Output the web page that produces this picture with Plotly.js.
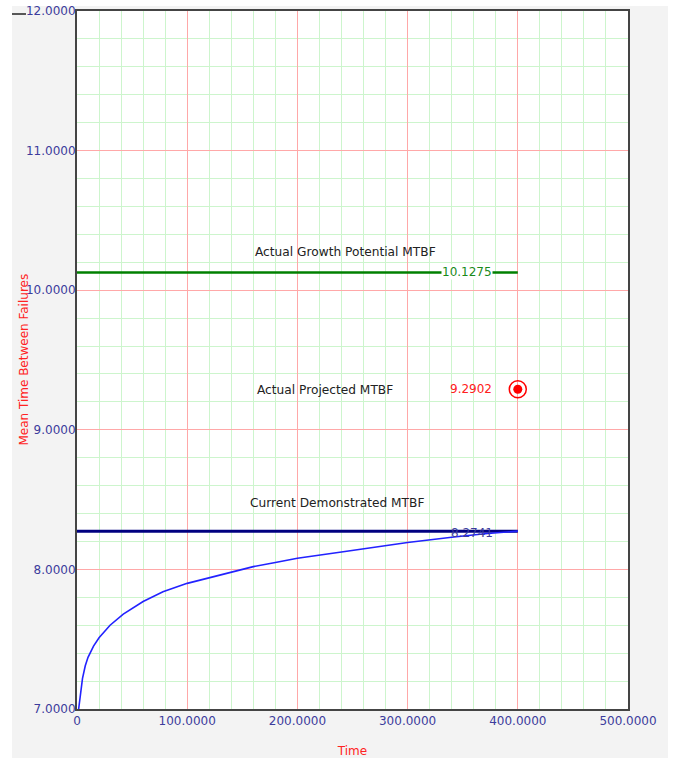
<!DOCTYPE html>
<html>
<head>
<meta charset="utf-8">
<script src="https://cdn.plot.ly/plotly-3.0.1.min.js"></script>
<style>
  html, body { margin: 0; padding: 0; background: #ffffff; }
  #panel { position: absolute; left: 12px; top: 6px; width: 656px; height: 752px; background: #f3f3f3; }
  #chart { position: absolute; left: 0; top: 0; width: 676px; height: 758px; }
</style>
</head>
<body>
<div id="panel"></div>
<div id="chart"></div>
<script>
// Demonstrated MTBF curve
const curveTime = [1.5, 3, 5, 7.5, 10, 15, 20, 30, 42, 60, 78, 100, 120, 140, 160, 180, 200, 240, 280, 300, 340, 370, 400];
const curveMTBF = [7.0, 7.10, 7.22, 7.31, 7.37, 7.45, 7.51, 7.60, 7.68, 7.77, 7.84, 7.90, 7.94, 7.985, 8.02, 8.05, 8.08, 8.125, 8.17, 8.193, 8.23, 8.255, 8.274];

// Reference lines
const lineTime = [0, 400];
const growthPotential = 10.1275;
const currentDemonstrated = 8.2741;

// Projected point
const projectedTime = [400];
const projectedMTBF = [9.2902];

// Text labels
const growthLabel = "Actual Growth Potential MTBF";
const projectedLabel = "Actual Projected MTBF";
const demonstratedLabel = "Current Demonstrated MTBF";
const xTitle = "Time";
const yTitle = "Mean Time Between Failures";

const xTickVals = [0, 100, 200, 300, 400, 500];
const xTickText = ["0", "100.0000", "200.0000", "300.0000", "400.0000", "500.0000"];
const yTickVals = [7, 8, 9, 10, 11, 12];
const yTickText = ["7.0000", "8.0000", "9.0000", "10.0000", "11.0000", "12.0000"];

const fontFam = "DejaVu Sans, Verdana, sans-serif";
const tickColor = "#3c3c9c";

const traces = [
  { x: lineTime, y: [growthPotential, growthPotential], mode: "lines",
    line: { color: "#008000", width: 2.5 }, hoverinfo: "skip" },
  { x: lineTime, y: [currentDemonstrated, currentDemonstrated], mode: "lines",
    line: { color: "#000080", width: 3 }, hoverinfo: "skip" },
  { x: curveTime, y: curveMTBF, mode: "lines",
    line: { color: "#2222ff", width: 1.6 }, hoverinfo: "skip" },
  { x: projectedTime, y: projectedMTBF, mode: "markers",
    marker: { symbol: "circle-open", size: 17, color: "#ff0000", line: { width: 1.5, color: "#ff0000" } } },
  { x: projectedTime, y: projectedMTBF, mode: "markers",
    marker: { symbol: "circle", size: 9, color: "#ff0000" } }
];

const annFont = { family: fontFam, size: 12.2, color: "#222222" };
const layout = {
  width: 676, height: 758,
  margin: { l: 77, r: 48, t: 11, b: 49, pad: 0 },
  paper_bgcolor: "rgba(0,0,0,0)",
  plot_bgcolor: "#ffffff",
  showlegend: false,
  font: { family: fontFam, size: 12, color: tickColor },
  xaxis: {
    range: [0, 500], tickvals: xTickVals, ticktext: xTickText,
    showgrid: true, gridcolor: "#ffa8a8", gridwidth: 1,
    minor: { dtick: 20, showgrid: true, gridcolor: "#cdf5cd", gridwidth: 1 },
    showline: true, mirror: true, linecolor: "#444444", linewidth: 2,
    zeroline: false, ticks: "",
    tickfont: { family: fontFam, size: 12, color: tickColor },
    title: { text: xTitle, font: { family: fontFam, size: 12, color: "#ff2222" }, standoff: 20 }
  },
  yaxis: {
    range: [7, 12], tickvals: yTickVals, ticktext: yTickText,
    showgrid: true, gridcolor: "#ffa8a8", gridwidth: 1,
    minor: { dtick: 0.2, showgrid: true, gridcolor: "#cdf5cd", gridwidth: 1 },
    showline: true, mirror: true, linecolor: "#444444", linewidth: 2,
    zeroline: false, ticks: "", ticklabelstandoff: -3,
    tickfont: { family: fontFam, size: 12, color: tickColor }
  },
  shapes: [
    { type: "line", xref: "paper", yref: "paper", x0: -0.118, x1: -0.0926, y0: 0.9957, y1: 0.9957,
      layer: "above", line: { color: "#222222", width: 1.5 } }
  ],
  annotations: [
    { xref: "paper", yref: "paper", x: -0.097, y: 0.5, text: yTitle, textangle: -90, showarrow: false,
      xanchor: "center", yanchor: "middle",
      font: { family: fontFam, size: 12, color: "#ff2222" } },
    { x: 244, y: 10.274, text: growthLabel, showarrow: false, font: annFont },
    { x: 225, y: 9.286, text: projectedLabel, showarrow: false, font: annFont },
    { x: 236, y: 8.477, text: demonstratedLabel, showarrow: false, font: annFont },
    { x: 357.5, y: 9.29, text: projectedMTBF[0].toFixed(4), showarrow: false,
      font: { family: fontFam, size: 12, color: "#ff2020" } },
    { x: 354, y: growthPotential, text: growthPotential.toFixed(4), showarrow: false, bgcolor: "#ffffff",
      borderpad: 0, font: { family: fontFam, size: 12, color: "#1a8a1a" } },
    { x: 358, y: 8.26, text: currentDemonstrated.toFixed(4), showarrow: false,
      font: { family: fontFam, size: 12, color: "#3c3c9c" } }
  ]
};

Plotly.newPlot("chart", traces, layout, { displayModeBar: false, staticPlot: true });
</script>
</body>
</html>
